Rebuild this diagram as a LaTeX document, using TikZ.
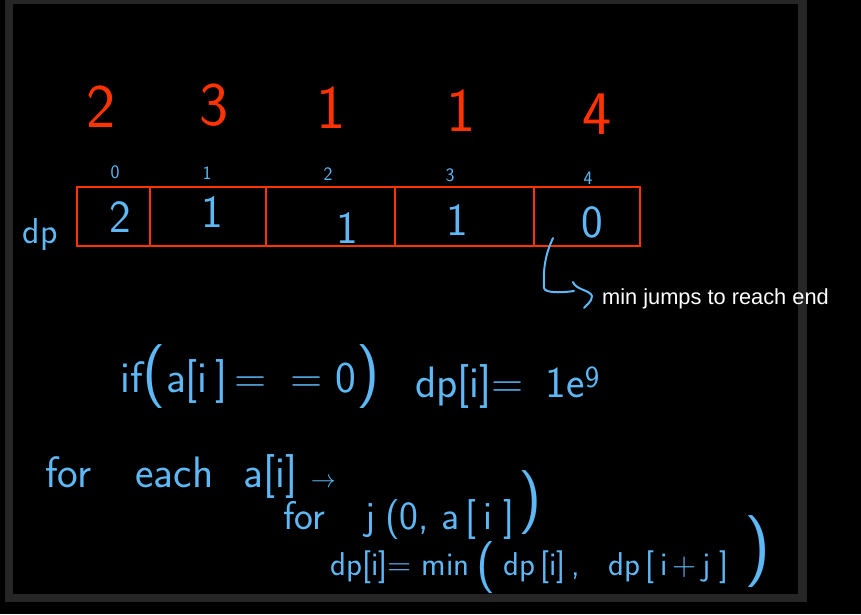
\documentclass[tikz,border=0pt]{standalone}
\usepackage{fontspec}
\newfontfamily\arialf{Liberation Sans}
\definecolor{hred}{HTML}{FF3300}
\definecolor{hblue}{HTML}{5DB8F5}
\definecolor{frameg}{HTML}{262626}
\newcommand\hbp[1]{{\fontsize{64}{64}\selectfont #1}}
\tikzset{
  reddigit/.style={text=hred, font=\sffamily\fontsize{62}{62}\selectfont, inner sep=0pt},
  idx/.style={text=hblue, font=\sffamily\fontsize{19}{19}\selectfont, inner sep=0pt},
  cellval/.style={text=hblue, font=\sffamily\fontsize{46}{46}\selectfont, inner sep=0pt},
  cell/.style={draw=hred, line width=2pt, minimum height=59pt, inner sep=0pt, outer sep=0pt},
  code/.style={text=hblue, font=\sffamily\fontsize{44}{44}\selectfont, inner sep=0pt, anchor=base west},
  paren/.style={text=hblue, inner sep=0pt},
  hand/.style={hblue, line width=2pt, line cap=round, line join=round},
}
\begin{document}
\begin{tikzpicture}[x=1pt,y=-1pt]
\fill[black] (0,0) rectangle (861,614);
\useasboundingbox (0,0) rectangle (861,614);
\draw[frameg, line width=8.5pt] (9,0) rectangle (802.5,598);
% red array values
\node[reddigit] (r0) at (101,107) {2};
\node[reddigit] (r1) at (214,105) {3};
\node[reddigit] (r2) at (331,108) {1};
\node[reddigit] (r3) at (461,111) {1};
\node[reddigit] (r4) at (597,114) {4};
% indices
\node[idx] (i0) at (115,172) {0};
\node[idx] (i1) at (207,173) {1};
\node[idx] (i2) at (328,174) {2};
\node[idx] (i3) at (450,175) {3};
\node[idx] (i4) at (588,178) {4};
% cells
\node[cell, minimum width=73pt] (c0) at (113.5,216.5) {};
\node[cell, minimum width=116pt] (c1) at (208,216.5) {};
\node[cell, minimum width=129pt] (c2) at (330.5,216.5) {};
\node[cell, minimum width=139pt] (c3) at (464.5,216.5) {};
\node[cell, minimum width=106pt] (c4) at (587,216.5) {};
% cell values
\node[cellval] (v0) at (120,217) {2};
\node[cellval] (v1) at (212,212) {1};
\node[cellval] (v2) at (347,228) {1};
\node[cellval] (v3) at (457,220) {1};
\node[cellval] (v4) at (592,222) {0};
\node[text=hblue, font=\sffamily\fontsize{36}{36}\selectfont, inner sep=0pt] (dp) at (40,235) {dp};
% annotation
\coordinate (bstart) at (553,238);
\node[text=white, font=\arialf\fontsize{21.8}{22}\selectfont, inner sep=0pt, anchor=base west] (lbl) at (602,304) {min jumps to reach end};
\draw[hand] (bstart) .. controls (545,255) and (543,270) .. (544,288)
  .. controls (545,293) and (560,293) .. (574,291);
\draw[hand] (573,282) .. controls (576,290) and (590,290) .. (592,296)
  .. controls (592,302) and (586,305) .. (584,308);
% code
\node[code] (l1a) at (120,392) {if\hbp{(}a[i\,]\,=\;\;=\;0\hbp{)}};
\node[code] (l1b) at (415,397) {dp[i]=\enskip1e\textsuperscript{9}};
\node[code] (l2) at (45,487) {for\quad each\hspace{30pt}a[i] $\rightarrow$};
\node[code, font=\sffamily\fontsize{40}{40}\selectfont] (l3) at (283,529) {for\hspace{40pt}j\hspace{10pt}(0,\hspace{12pt}a\,[\,i\;]};
\node[paren, font=\sffamily\fontsize{64}{64}\selectfont] (l3p) at (530,503) {)};
\node[code, font=\sffamily\fontsize{33}{33}\selectfont] (l4a) at (330,575) {dp[i]= min};
\node[paren, font=\sffamily\fontsize{52}{52}\selectfont] (l4p1) at (486,568) {(};
\node[code, font=\sffamily\fontsize{33}{33}\selectfont] (l4b) at (503,575) {dp\,[i]\,,\hspace{28pt}dp\,[\,i\,+\,j\;]};
\node[paren, font=\sffamily\fontsize{72}{72}\selectfont] (l4p2) at (758,552) {)};
\end{tikzpicture}
\end{document}
